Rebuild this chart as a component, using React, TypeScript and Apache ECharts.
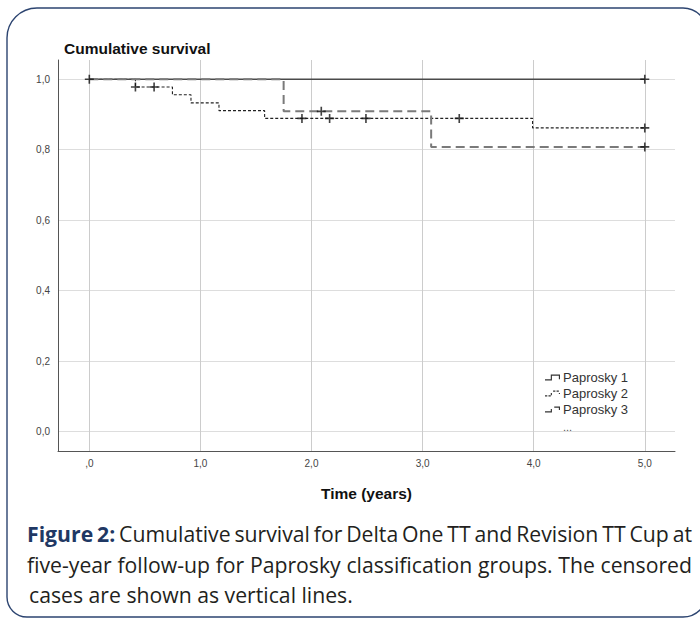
import React, { useEffect, useRef } from 'react';
import * as echarts from 'echarts';

// ---- Data ----
const seriesNames = ['Paprosky 1', 'Paprosky 2', 'Paprosky 3'];

const xTicks = [0, 1, 2, 3, 4, 5];
const xTickLabels = [',0', '1,0', '2,0', '3,0', '4,0', '5,0'];
const yTicks = [0, 0.2, 0.4, 0.6, 0.8, 1.0];
const yTickLabels = ['0,0', '0,2', '0,4', '0,6', '0,8', '1,0'];

// Kaplan-Meier step curves (time in years, cumulative survival)
const p1Times = [0, 5.0];
const p1Surv = [1.0, 1.0];
const p2Times = [0, 0.415, 0.748, 0.915, 1.167, 1.578, 3.99, 5.0];
const p2Surv = [1.0, 0.978, 0.956, 0.933, 0.911, 0.889, 0.862, 0.862];
const p3Times = [0, 1.749, 3.077, 5.0];
const p3Surv = [1.0, 0.909, 0.808, 0.808];

// Censored cases
const p1CensorTimes = [0, 5.0];
const p1CensorSurv = [1.0, 1.0];
const p2CensorTimes = [0.415, 0.583, 1.914, 2.163, 2.49, 3.33, 5.0];
const p2CensorSurv = [0.978, 0.978, 0.889, 0.889, 0.889, 0.889, 0.862];
const p3CensorTimes = [2.088, 5.0];
const p3CensorSurv = [0.909, 0.808];

const titleText = 'Cumulative survival';
const xAxisTitle = 'Time (years)';
const captionLabel = 'Figure 2:';
const captionLines = [
  'Cumulative survival for Delta One TT and Revision TT Cup at',
  'five-year follow-up for Paprosky classification groups. The censored',
  'cases are shown as vertical lines.',
];

const ARIAL = 'Arial, "Liberation Sans", sans-serif';
const plusPath = 'path://M4.1,0H5.9V4.1H10V5.9H5.9V10H4.1V5.9H0V4.1H4.1Z';

const iconP1 = 'path://M0,5h6v1h-6zM5,1h1v5h-1zM5,1h8v1h-8zM12,1h1v4h-1z';
const iconP2 = 'path://M0,5h2v1h-2zM3,5h2v1h-2zM5,3h1v2h-1zM7,1h2v1h-2zM10,1h2v1h-2zM12,3h1v1h-1z';
const iconP3 = 'path://M0,5h5v1h-5zM5,3h1v3h-1zM8,1h5v1h-5zM12,1h1v3h-1z';

function tickFormatter(ticks: number[], labels: string[]) {
  return (v: number) => {
    const i = ticks.findIndex((t) => Math.abs(t - v) < 1e-6);
    return i >= 0 ? labels[i] : '';
  };
}

export default function App() {
  const ref = useRef<HTMLDivElement>(null);

  useEffect(() => {
    const el = ref.current;
    if (!el) return;
    const chart = echarts.init(el, null, { renderer: 'svg' });

    // ---- caption layout (justified lines) ----
    const canvas = document.createElement('canvas');
    const ctx = canvas.getContext('2d')!;
    const capFamily = '"Open Sans", Lato, sans-serif';
    const baseSize = 18;
    ctx.font = `${baseSize}px ${capFamily}`;
    const w3 = ctx.measureText(captionLines[2]).width || 324;
    const capSize = Math.min(22, Math.max(14, (baseSize * 324) / w3));
    const fontOf = (bold: boolean) => `${bold ? 'bold ' : ''}${capSize}px ${capFamily}`;
    const measure = (t: string, bold: boolean) => {
      ctx.font = fontOf(bold);
      return ctx.measureText(t).width;
    };
    const capElems: any[] = [];
    const layoutLine = (
      words: { t: string; bold: boolean }[],
      x0: number,
      x1: number,
      yMid: number,
      justify: boolean
    ) => {
      const widths = words.map((w) => measure(w.t, w.bold));
      const total = widths.reduce((a, b) => a + b, 0);
      const gap = justify && words.length > 1 ? (x1 - x0 - total) / (words.length - 1) : measure(' ', false);
      let x = x0;
      words.forEach((w, i) => {
        capElems.push({
          type: 'text',
          x,
          y: yMid,
          silent: true,
          style: {
            text: w.t,
            font: fontOf(w.bold),
            fill: w.bold ? '#1f3864' : '#231f20',
            textAlign: 'left',
            textVerticalAlign: 'middle',
          },
        });
        x += widths[i] + gap;
      });
    };
    const mid = (baseline: number) => baseline - 0.388 * capSize;
    const l1 = [
      ...captionLabel.split(' ').map((t) => ({ t, bold: true })),
      ...captionLines[0].split(' ').map((t) => ({ t, bold: false })),
    ];
    layoutLine(l1, 27, 692, mid(542), true);
    layoutLine(captionLines[1].split(' ').map((t) => ({ t, bold: false })), 27, 692, mid(573), true);
    layoutLine(captionLines[2].split(' ').map((t) => ({ t, bold: false })), 29, 692, mid(603), false);

    const lineSeries = (name: string, times: number[], surv: number[], lineStyle: any, z: number) => ({
      type: 'line',
      name,
      step: 'end',
      data: times.map((t, i) => [t, surv[i]]),
      symbol: 'none',
      showSymbol: false,
      lineStyle,
      itemStyle: { color: lineStyle.color },
      z,
      silent: true,
    });
    const censorSeries = (name: string, times: number[], surv: number[]) => ({
      type: 'scatter',
      name: name + ' censored',
      data: times.map((t, i) => [t, surv[i]]),
      symbol: plusPath,
      symbolSize: 9,
      itemStyle: { color: '#111' },
      z: 10,
      silent: true,
    });

    const option: any = {
      animation: false,
      backgroundColor: '#ffffff',
      grid: { left: 58, right: 25, top: 60, bottom: 167, containLabel: false },
      xAxis: {
        type: 'value',
        min: -0.282,
        max: 5.272,
        name: xAxisTitle,
        nameLocation: 'middle',
        nameGap: 34,
        nameTextStyle: { fontFamily: ARIAL, fontSize: 15.5, fontWeight: 'bold', color: '#111' },
        axisLine: { show: true, onZero: false, lineStyle: { color: '#555', width: 1 } },
        axisTick: { show: false, customValues: xTicks },
        axisLabel: {
          customValues: xTicks,
          formatter: tickFormatter(xTicks, xTickLabels),
          fontFamily: ARIAL,
          fontSize: 10,
          color: '#444',
          margin: 7,
        },
        splitLine: { show: true, lineStyle: { color: '#cccccc', width: 1 } },
      },
      yAxis: {
        type: 'value',
        min: -0.0554,
        max: 1.0548,
        axisLine: { show: true, onZero: false, lineStyle: { color: '#555', width: 1 } },
        axisTick: { show: false, customValues: yTicks },
        axisLabel: {
          customValues: yTicks,
          formatter: tickFormatter(yTicks, yTickLabels),
          fontFamily: ARIAL,
          fontSize: 10,
          color: '#444',
          margin: 8,
        },
        splitLine: { show: true, lineStyle: { color: '#dddddd', width: 1 } },
      },
      legend: {
        orient: 'vertical',
        left: 540,
        top: 366,
        itemWidth: 15,
        itemHeight: 8,
        itemGap: 3,
        selectedMode: false,
        textStyle: { fontFamily: ARIAL, fontSize: 13, color: '#333', padding: [0, 0, 0, -2] },
        data: [
          { name: seriesNames[0], icon: iconP1, itemStyle: { color: '#333' } },
          { name: seriesNames[1], icon: iconP2, itemStyle: { color: '#333' } },
          { name: seriesNames[2], icon: iconP3, itemStyle: { color: '#333' } },
        ],
      },
      graphic: [
        {
          type: 'text',
          x: 64,
          y: 48,
          silent: true,
          style: {
            text: titleText,
            font: `bold 15.5px ${ARIAL}`,
            fill: '#111',
            textAlign: 'left',
            textVerticalAlign: 'middle',
          },
        },
        {
          type: 'text',
          x: 563,
          y: 427,
          silent: true,
          z: 20,
          style: { text: '...', font: `11px ${ARIAL}`, fill: '#555', textAlign: 'left', textVerticalAlign: 'middle' },
        },
        {
          type: 'rect',
          silent: true,
          shape: { x: 7, y: 8, width: 700, height: 609, r: [30, 24, 24, 20] },
          style: { fill: 'none', stroke: '#2c4470', lineWidth: 1.4 },
        },
        ...capElems,
      ],
      series: [
        lineSeries(seriesNames[0], p1Times, p1Surv, { color: '#4a4a4a', width: 1.5, type: 'solid' }, 4),
        lineSeries(seriesNames[1], p2Times, p2Surv, { color: '#222', width: 1.1, type: [3, 2] }, 3),
        lineSeries(seriesNames[2], p3Times, p3Surv, { color: '#7a7a7a', width: 2, type: [9, 5] }, 5),
        censorSeries(seriesNames[0], p1CensorTimes, p1CensorSurv),
        censorSeries(seriesNames[1], p2CensorTimes, p2CensorSurv),
        censorSeries(seriesNames[2], p3CensorTimes, p3CensorSurv),
      ],
    };
    chart.setOption(option);
    return () => {
      chart.dispose();
    };
  }, []);

  return (
    <div
      ref={ref}
      style={{ position: 'fixed', left: 0, top: 0, width: 700, height: 618, background: '#ffffff' }}
    />
  );
}
